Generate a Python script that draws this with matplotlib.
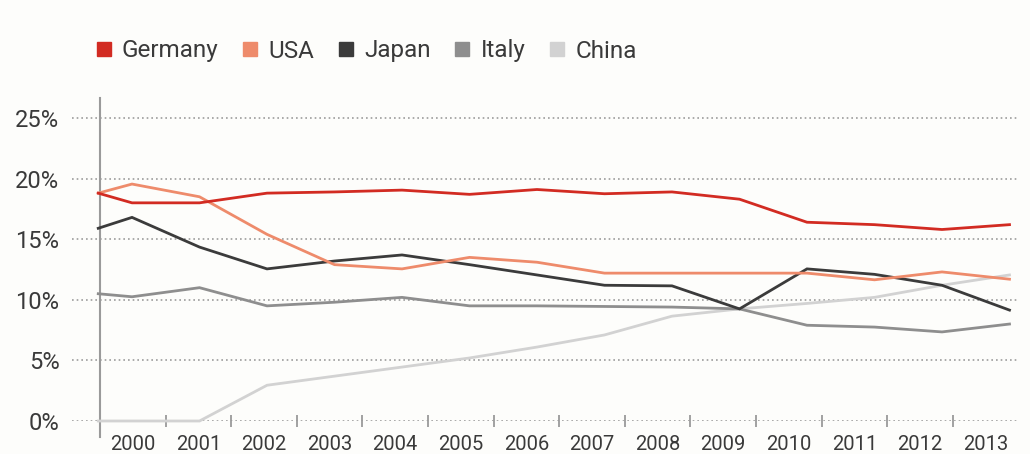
import matplotlib.pyplot as plt
from matplotlib.lines import Line2D

plt.rcParams['font.family'] = ['Roboto', 'DejaVu Sans']

# category labels along the bottom
years = ['2000', '2001', '2002', '2003', '2004', '2005', '2006', '2007',
         '2008', '2009', '2010', '2011', '2012', '2013']
cat_pos = [0, 1, 2, 3, 4, 5, 6, 7, 8, 9, 10, 11, 12, 13]

# line points: a lead-in point half a year before 2000, then one per year
line_x = [1999.5, 2000, 2001, 2002, 2003, 2004, 2005, 2006, 2007,
          2008, 2009, 2010, 2011, 2012, 2013]

germany = [18.8, 18.0, 18.0, 18.8, 18.9, 19.05, 18.7, 19.1, 18.75, 18.9, 18.3, 16.4, 16.2, 15.8, 16.2]
usa = [18.8, 19.55, 18.5, 15.4, 12.9, 12.55, 13.5, 13.1, 12.2, 12.2, 12.2, 12.2, 11.65, 12.3, 11.7]
japan = [15.9, 16.8, 14.35, 12.55, 13.2, 13.7, 12.9, 12.05, 11.2, 11.15, 9.25, 12.55, 12.1, 11.2, 9.15]
italy = [10.5, 10.25, 11.0, 9.5, 9.8, 10.2, 9.5, 9.5, 9.45, 9.4, 9.25, 7.9, 7.75, 7.35, 8.0]
china = [0, 0, 0, 2.95, 3.7, 4.45, 5.2, 6.1, 7.1, 8.65, 9.25, 9.7, 10.2, 11.2, 12.05]

y_ticks = [0, 5, 10, 15, 20, 25]
y_labels = ['0%', '5%', '10%', '15%', '20%', '25%']

red = '#D22B22'
salmon = '#EE8B6B'
dark = '#3B3B3B'
mid = '#8E8E8E'
light = '#D2D2D2'
text_col = '#3A3A3A'
axis_col = '#9A9A9A'

fig = plt.figure(figsize=(10.3, 4.54), dpi=100, facecolor='#FDFDFB')
ax = fig.add_axes([72 / 1030, 33 / 454, 946 / 1030, 323 / 454])
ax.set_facecolor('#FDFDFB')
ax.set_xlim(-0.927, 13.494)
ax.set_ylim(0, 26.65)
for s in ax.spines.values():
    s.set_visible(False)

# dotted horizontal grid
for v in y_ticks:
    ax.axhline(v, color='#9C9C9C', linestyle=(0, (1, 1.8)), linewidth=1.2, zorder=1)

# vertical axis line, running a little below zero
ax.plot([-0.5, -0.5], [-1.3, 26.65], color=axis_col, linewidth=1.5, clip_on=False, zorder=2)

ax.set_yticks(y_ticks)
ax.set_yticklabels(y_labels, fontsize=17, color=text_col)
ax.tick_params(axis='y', length=0, pad=9)

ax.set_xticks(cat_pos)
ax.set_xticklabels(years, fontsize=14.5, color=text_col)
ax.set_xticks([p + 0.5 for p in cat_pos[:-1]], minor=True)
ax.tick_params(axis='x', which='major', length=0, pad=10)
ax.tick_params(axis='x', which='minor', length=9, width=1.3, color=axis_col, direction='inout')

# lines on their own x scale
lx = ax.twiny()
lx.set_xlim(1999.111, 2013.126)
lx.set_xticks([])
for s in lx.spines.values():
    s.set_visible(False)

series = [(china, light, 'China'), (italy, mid, 'Italy'), (japan, dark, 'Japan'),
          (usa, salmon, 'USA'), (germany, red, 'Germany')]
for vals, col, name in series:
    lx.plot(line_x, vals, color=col, linewidth=2.0, solid_joinstyle='miter', clip_on=False)

handles = [Line2D([], [], marker='s', linestyle='none', markersize=9.5, color=c)
           for c in [red, salmon, dark, mid, light]]
fig.legend(handles, ['Germany', 'USA', 'Japan', 'Italy', 'China'], ncol=5, frameon=False,
           loc='center left', bbox_to_anchor=(83 / 1030, 1 - 51 / 454), borderpad=0,
           handlelength=0.7, handletextpad=0.4, columnspacing=0.95,
           prop={'size': 17.5}, labelcolor=text_col)

fig.savefig('out.png', dpi=100, facecolor=fig.get_facecolor())
